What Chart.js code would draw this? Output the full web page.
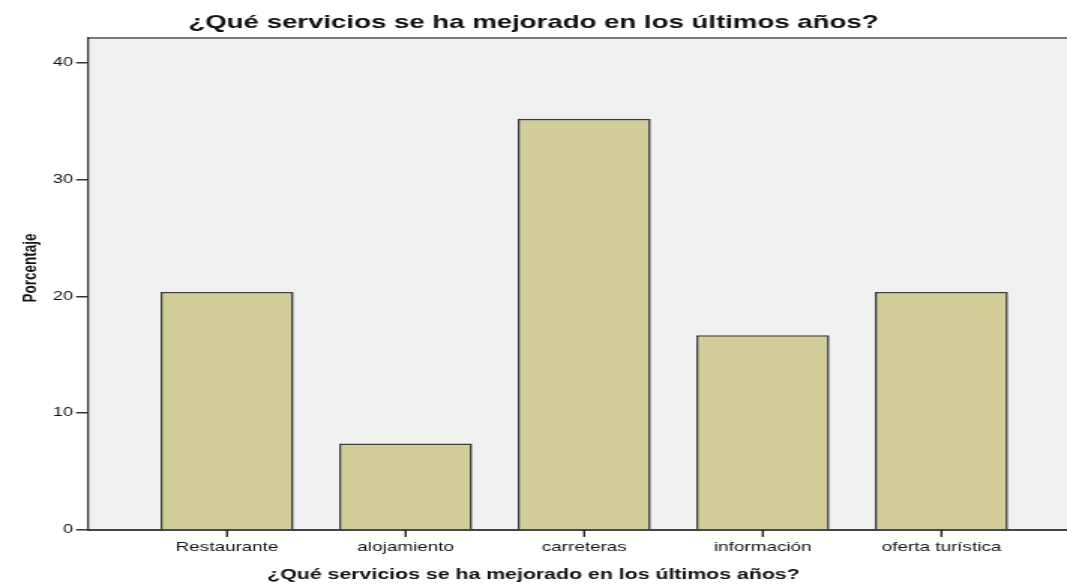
<!DOCTYPE html>
<html>
<head>
<meta charset="utf-8">
<script src="https://cdn.jsdelivr.net/npm/chart.js@4.4.1/dist/chart.umd.min.js"></script>
<style>
  html, body { margin: 0; padding: 0; background: #ffffff; overflow: hidden; }
  #wrap { position: absolute; left: 0; top: 0; width: 711px; height: 584px; transform: scaleX(1.5007); transform-origin: 0 0; }
</style>
</head>
<body>
<div id="wrap"><canvas id="c"></canvas></div>
<script>
const categories = ['Restaurante', 'alojamiento', 'carreteras', 'información', 'oferta turística'];
const porcentajes = [20.37, 7.41, 35.19, 16.67, 20.37];
const yTicks = [0, 10, 20, 30, 40];
const chartTitle = '¿Qué servicios se ha mejorado en los últimos años?';
const xTitle = '¿Qué servicios se ha mejorado en los últimos años?';
const yTitle = 'Porcentaje';

const FONT = "'Liberation Sans', Arial, sans-serif";

const plotBg = {
  id: 'plotBg',
  beforeDraw(chart) {
    const { ctx, chartArea: a } = chart;
    ctx.save();
    ctx.fillStyle = '#f0f0f0';
    ctx.fillRect(a.left, a.top, a.right - a.left, a.bottom - a.top);
    ctx.strokeStyle = '#7a7a7a';
    ctx.lineWidth = 2;
    ctx.beginPath();
    ctx.moveTo(a.left, a.top);
    ctx.lineTo(a.right, a.top);
    ctx.stroke();
    ctx.restore();
  },
  afterDraw(chart) {
    const { ctx, chartArea: a } = chart;
    const xs = chart.scales.x;
    ctx.save();
    // category tick marks below the x axis, placed through the x scale
    ctx.strokeStyle = '#222';
    ctx.lineWidth = 1.4;
    categories.forEach((c, i) => {
      const px = xs.getPixelForValue(i);
      ctx.beginPath();
      ctx.moveTo(px, a.bottom);
      ctx.lineTo(px, a.bottom + 7);
      ctx.stroke();
    });
    // y axis title
    ctx.translate(a.left - 38.7, (a.top + a.bottom) / 2 - 16);
    ctx.rotate(-Math.PI / 2);
    ctx.fillStyle = '#111';
    ctx.font = "bold 13.5px " + FONT;
    ctx.textAlign = 'center';
    ctx.textBaseline = 'middle';
    ctx.fillText(yTitle, 0, 0);
    ctx.restore();
  }
};

new Chart(document.getElementById('c'), {
  type: 'bar',
  data: {
    datasets: [{
      label: yTitle,
      data: categories.map((c, i) => ({ x: i, y: porcentajes[i] })),
      backgroundColor: '#d3ce99',
      borderColor: '#3c3c3c',
      borderWidth: 1.6,
      barPercentage: 0.745,
      categoryPercentage: 1
    }]
  },
  options: {
    responsive: true,
    maintainAspectRatio: false,
    animation: false,
    devicePixelRatio: 1,
    layout: { padding: 0 },
    plugins: {
      legend: { display: false },
      tooltip: { enabled: false },
      title: {
        display: true,
        text: chartTitle,
        color: '#111',
        font: { family: FONT, size: 18.4, weight: 'bold', lineHeight: 1.2 },
        padding: { top: 11.5, bottom: 4.5 }
      },
      subtitle: {
        display: true,
        position: 'bottom',
        text: xTitle,
        color: '#111',
        font: { family: FONT, size: 14.2, weight: 'bold', lineHeight: 1.2 },
        padding: { top: 4, bottom: 0 }
      }
    },
    scales: {
      x: {
        type: 'linear',
        offset: false,
        min: -0.778,
        max: 4.703,
        afterBuildTicks(scale) { scale.ticks = categories.map((c, i) => ({ value: i })); },
        afterFit(scale) { scale.height = 33; },
        ticks: {
          autoSkip: false,
          maxRotation: 0,
          padding: 10,
          color: '#111',
          font: { family: FONT, size: 12.6 },
          callback: (v) => categories[v] !== undefined ? categories[v] : ''
        },
        grid: { display: false, offset: false, drawOnChartArea: false, drawTicks: false },
        border: { display: true, color: '#444', width: 2 },
        title: { display: false }
      },
      y: {
        min: 0,
        max: 42.1,
        afterBuildTicks(scale) { scale.ticks = yTicks.map(v => ({ value: v })); },
        afterFit(scale) { scale.width = 58.7; },
        ticks: {
          padding: 2,
          color: '#111',
          font: { family: FONT, size: 12 }
        },
        grid: { display: true, drawOnChartArea: false, drawTicks: true, tickLength: 8, tickColor: '#333', tickWidth: 1.5, color: '#333', lineWidth: 1.5 },
        border: { display: true, color: '#333', width: 1.3 },
        title: { display: false }
      }
    }
  },
  plugins: [plotBg]
});
</script>
</body>
</html>
